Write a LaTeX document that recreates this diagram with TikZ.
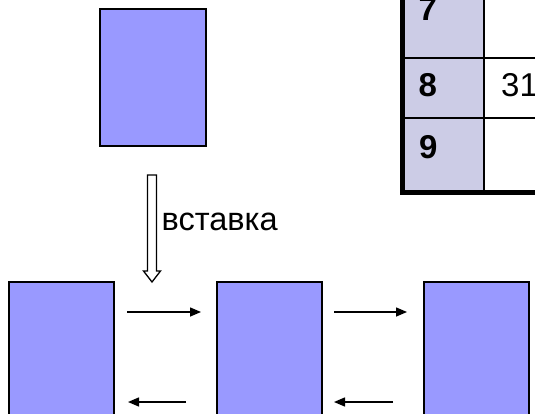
\documentclass[tikz,border=0pt]{standalone}
\usepackage{fontspec}
\setmainfont{Liberation Sans}
\usetikzlibrary{arrows.meta}
\definecolor{boxblue}{RGB}{153,153,255}
\definecolor{headcol}{RGB}{204,204,230}
\begin{document}
\begin{tikzpicture}[x=1pt,y=-1pt,
  box/.style={draw=black, line width=2pt, fill=boxblue, inner sep=0pt, anchor=north west, minimum width=105pt, minimum height=137pt},
  num/.style={font=\fontsize{33}{35}\selectfont\bfseries, anchor=west, inner sep=0pt},
  val/.style={font=\fontsize{33}{35}\selectfont, anchor=west, inner sep=0pt},
  lbl/.style={font=\fontsize{32.5}{34}\selectfont, anchor=west, inner sep=0pt},
  link/.style={line width=1.5pt, -{Triangle[length=11pt,width=9pt]}},
  thin/.style={line width=1.5pt},
  thick/.style={line width=5pt}]
\useasboundingbox (0,0) rectangle (535,414);
\clip (0,0) rectangle (535,414);
% table
\fill[headcol] (402,-10) rectangle (484,192);
\draw[thin] (402,58) -- (540,58);
\draw[thin] (402,118) -- (540,118);
\draw[thin] (484,-10) -- (484,192);
\draw[thick] (402.5,-10) -- (402.5,195);
\draw[thick] (400,192.5) -- (540,192.5);
\node[num] (n7) at (418.5,9) {7};
\node[num] (n8) at (418.5,85) {8};
\node[num] (n9) at (419,147.5) {9};
\node[val] (v8) at (501,85) {31};
% new element
\node[box, minimum width=106pt, minimum height=137pt] (new) at (99,8) {};
% insertion arrow
\draw[line width=1.3pt, fill=white] (147.5,175) -- (156.5,175) -- (156.5,271) -- (160.5,271)
   -- (152,282) -- (143.5,271) -- (147.5,271) -- cycle;
\node[lbl] (ins) at (161.5,222) {вставка};
% list
\node[box] (a) at (8,281) {};
\node[box] (b) at (216,281) {};
\node[box] (c) at (423,281) {};
\coordinate (a1) at (127,312); \coordinate (b1) at (201,312);
\coordinate (b2) at (334,312); \coordinate (c2) at (407,312);
\coordinate (a3) at (128,402); \coordinate (b3) at (186,402);
\coordinate (b4) at (334,402); \coordinate (c4) at (393,402);
\draw[link] (a1) -- (b1);
\draw[link] (b2) -- (c2);
\draw[link] (b3) -- (a3);
\draw[link] (c4) -- (b4);
\end{tikzpicture}
\end{document}
